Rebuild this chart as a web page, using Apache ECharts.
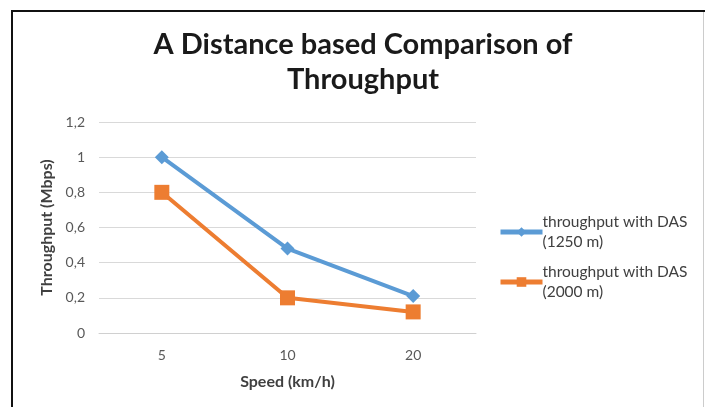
<!DOCTYPE html>
<html>
<head>
<meta charset="utf-8">
<script src="https://cdn.jsdelivr.net/npm/echarts@6/dist/echarts.min.js"></script>
<style>
  html, body { margin: 0; padding: 0; background: #fff; }
  #chart { width: 705px; height: 407px; }
</style>
</head>
<body>
<div id="chart"></div>
<script>
// Speed categories on the x axis
var speeds = ['5', '10', '20'];
// Throughput (Mbps) for each distance
var das1250 = [1.0, 0.48, 0.21];
var das2000 = [0.8, 0.2, 0.12];
// Series names shown in the legend
var seriesNames = ['throughput with DAS\n(1250 m)', 'throughput with DAS\n(2000 m)'];

var FONT = 'Lato, "Open Sans", "DejaVu Sans", sans-serif';
var chart = echarts.init(document.getElementById('chart'));

chart.setOption({
  backgroundColor: '#ffffff',
  animation: false,
  title: {
    text: 'A Distance based Comparison of\nThroughput',
    left: 358,
    top: 22,
    textAlign: 'center',
    textStyle: {
      fontFamily: FONT,
      fontSize: 29,
      fontWeight: 'bold',
      color: '#1a1a1a',
      lineHeight: 35
    }
  },
  legend: {
    orient: 'vertical',
    left: 493,
    top: 207,
    itemWidth: 42,
    itemHeight: 12,
    itemGap: 10,
    textStyle: {
      fontFamily: FONT,
      fontSize: 15.5,
      color: '#404040',
      lineHeight: 20,
      padding: [0, 0, 0, -5]
    },
    data: [
      { name: seriesNames[0], lineStyle: { width: 5 } },
      { name: seriesNames[1], lineStyle: { width: 5 } }
    ]
  },
  grid: {
    left: 99,
    right: 229,
    top: 122,
    bottom: 74
  },
  xAxis: {
    type: 'category',
    data: speeds,
    boundaryGap: true,
    name: 'Speed (km/h)',
    nameLocation: 'middle',
    nameGap: 41,
    nameTextStyle: {
      fontFamily: FONT,
      fontSize: 16,
      fontWeight: 'bold',
      color: '#404040'
    },
    axisLine: { lineStyle: { color: '#d0d0d0', width: 1 } },
    axisTick: { show: false },
    axisLabel: {
      fontFamily: FONT,
      fontSize: 14,
      color: '#595959',
      margin: 15
    }
  },
  yAxis: {
    type: 'value',
    min: 0,
    max: 1.2,
    interval: 0.2,
    name: 'Throughput (Mbps)',
    nameLocation: 'middle',
    nameGap: 44,
    nameRotate: 90,
    nameTextStyle: {
      fontFamily: FONT,
      fontSize: 16,
      fontWeight: 'bold',
      color: '#404040'
    },
    axisLine: { show: false },
    axisTick: { show: false },
    splitLine: { lineStyle: { color: '#d9d9d9', width: 1 } },
    axisLabel: {
      fontFamily: FONT,
      fontSize: 14,
      color: '#595959',
      margin: 14,
      formatter: function (v) {
        return String(Math.round(v * 10) / 10).replace('.', ',');
      }
    }
  },
  series: [
    {
      name: seriesNames[0],
      type: 'line',
      data: das1250,
      symbol: 'diamond',
      symbolSize: 14,
      lineStyle: { color: '#5b9bd5', width: 4 },
      itemStyle: { color: '#5b9bd5' }
    },
    {
      name: seriesNames[1],
      type: 'line',
      data: das2000,
      symbol: 'rect',
      symbolSize: 15,
      lineStyle: { color: '#ed7d31', width: 4 },
      itemStyle: { color: '#ed7d31' }
    }
  ],
  graphic: [
    // frame around the chart
    { type: 'line', shape: { x1: 12, y1: 11, x2: 705, y2: 11 }, style: { stroke: '#111', lineWidth: 2 } },
    { type: 'line', shape: { x1: 12, y1: 10, x2: 12, y2: 407 }, style: { stroke: '#111', lineWidth: 2 } },
    { type: 'line', shape: { x1: 703.5, y1: 12, x2: 703.5, y2: 407 }, style: { stroke: '#cccccc', lineWidth: 1 } }
  ]
});
</script>
</body>
</html>
